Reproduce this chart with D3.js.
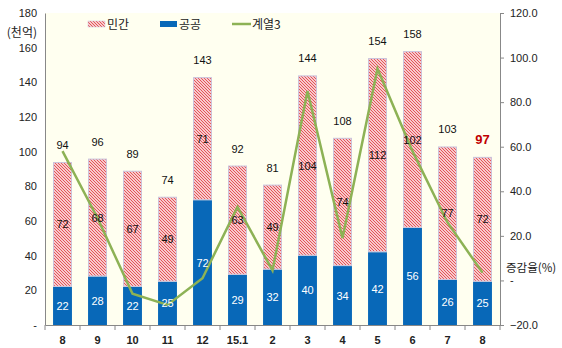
<!DOCTYPE html>
<html><head><meta charset="utf-8">
<script src="https://cdn.jsdelivr.net/npm/d3@7"></script>
<style>
body{margin:0;background:#fff;}
svg{display:block;font-family:"Liberation Sans","Noto Sans CJK KR",sans-serif;}
.kr{font-family:"Noto Sans CJK KR",sans-serif;}
</style></head><body>
<svg id="c" width="562" height="348"></svg>
<script>
const categories = ["8","9","10","11","12","15.1","2","3","4","5","6","7","8"];
const publicVals = [22,28,22,25,72,29,32,40,34,42,56,26,25];
const privateVals = [72,68,67,49,71,63,49,104,74,112,102,77,72];
const totals = [94,96,89,74,143,92,81,144,108,154,158,103,97];
const growth = [58,28,-6,-11,1,33,4.5,85,19,95,58,26,3.5];
const leftTicks = [0,20,40,60,80,100,120,140,160,180];
const rightTicks = [-20,0,20,40,60,80,100,120];

const svg = d3.select("#c");
const L=45,R=500,T=13,B=325;
const defs = svg.append("defs");
const pat = defs.append("pattern").attr("id","hatch").attr("patternUnits","userSpaceOnUse")
  .attr("width",3).attr("height",3);
pat.append("rect").attr("width",3).attr("height",3).attr("fill","#fff");
pat.append("path").attr("d","M-1,-1 L4,4 M-1,2 L1,4 M2,-1 L4,1").attr("stroke","#e44a4f").attr("stroke-width",1.1);

svg.append("rect").attr("x",L).attr("y",T).attr("width",R-L).attr("height",B-T).attr("fill","#fffff0");

const x = d3.scaleBand().domain(d3.range(categories.length)).range([L,R]).paddingInner(0.46).paddingOuter(0.23);
const xb = d3.scaleBand().domain(d3.range(categories.length)).range([L,R]);
const yL = d3.scaleLinear().domain([0,180]).range([B,T]);
const yR = d3.scaleLinear().domain([-20,120]).range([B,T]);

// bars
const g = svg.append("g");
categories.forEach((c,i)=>{
  const bx = x(i), bw = x.bandwidth();
  g.append("rect").attr("x",bx).attr("y",yL(publicVals[i])).attr("width",bw)
    .attr("height",yL(0)-yL(publicVals[i])).attr("fill","#0868b8");
  g.append("rect").attr("x",bx+0.5).attr("y",yL(publicVals[i]+privateVals[i])+0.5).attr("width",bw-1)
    .attr("height",yL(publicVals[i])-yL(publicVals[i]+privateVals[i])-1).attr("fill","url(#hatch)")
    .attr("stroke","#c9c3dc").attr("stroke-width",1);
});

// line
const line = d3.line().x((d,i)=>xb(i)+xb.bandwidth()/2).y(d=>yR(d));
svg.append("path").datum(growth).attr("d",line).attr("fill","none").attr("stroke","#8db255").attr("stroke-width",2.5);

// labels
categories.forEach((c,i)=>{
  const cx = xb(i)+xb.bandwidth()/2;
  svg.append("text").attr("x",cx).attr("y",(yL(0)+yL(publicVals[i]))/2+4).attr("text-anchor","middle")
    .attr("font-size",11).attr("fill","#fff").text(publicVals[i]);
  svg.append("text").attr("x",cx).attr("y",(yL(publicVals[i])+yL(totals[i]))/2+4).attr("text-anchor","middle")
    .attr("font-size",11).attr("fill","#111").text(privateVals[i]);
  const last = i===categories.length-1;
  svg.append("text").attr("x",cx).attr("y",yL(totals[i])-13).attr("text-anchor","middle")
    .attr("font-size",last?13:11).attr("font-weight",last?"bold":"normal")
    .attr("fill",last?"#c00000":"#111").text(totals[i]);
});

// left axis
const la = svg.append("g").attr("transform",`translate(${L},0)`)
  .call(d3.axisLeft(yL).tickValues(leftTicks).tickSize(0).tickPadding(8).tickFormat(d=>d===0?"-":d));
la.select(".domain").attr("stroke","#888");
la.selectAll("text").attr("font-size",11).attr("fill","#222").attr("font-family","Liberation Sans");
svg.append("text").attr("class","kr").attr("x",37).attr("y",37).attr("text-anchor","end")
  .attr("font-size",12).attr("fill","#222").text("(천억)");

// right axis
const ra = svg.append("g").attr("transform",`translate(${R},0)`)
  .call(d3.axisRight(yR).tickValues(rightTicks).tickSize(4).tickPadding(6).tickFormat(d=>d===0?"-":d3.format(".1f")(d)));
ra.select(".domain").attr("stroke","#888");
ra.selectAll("line").attr("stroke","#888");
ra.selectAll("text").attr("font-size",11).attr("fill","#222").attr("font-family","Liberation Sans");
svg.append("text").attr("class","kr").attr("x",506).attr("y",272)
  .attr("font-size",11.5).attr("fill","#222").text("증감율(%)");

// bottom axis
const ba = svg.append("g").attr("transform",`translate(0,${B})`)
  .call(d3.axisBottom(xb).tickSize(0).tickPadding(11).tickFormat(i=>categories[i]));
ba.select(".domain").attr("stroke","#888");
ba.selectAll("text").attr("font-size",11).attr("font-weight","bold").attr("fill","#222");
ba.selectAll(".sep").data(d3.range(categories.length+1)).enter().append("line")
  .attr("x1",i=>L+i*xb.step()).attr("x2",i=>L+i*xb.step()).attr("y1",0).attr("y2",5).attr("stroke","#888");

// legend
const lg = svg.append("g");
lg.append("rect").attr("x",88).attr("y",21).attr("width",17).attr("height",6).attr("fill","url(#hatch)").attr("stroke","#c9c3dc").attr("stroke-width",0.5);
lg.append("text").attr("class","kr").attr("x",107).attr("y",29).attr("font-size",12).attr("fill","#222").text("민간");
lg.append("rect").attr("x",160).attr("y",21).attr("width",17).attr("height",6).attr("fill","#0868b8");
lg.append("text").attr("class","kr").attr("x",179).attr("y",29).attr("font-size",12).attr("fill","#222").text("공공");
lg.append("line").attr("x1",232).attr("x2",251).attr("y1",24).attr("y2",24).attr("stroke","#8db255").attr("stroke-width",2.5);
lg.append("text").attr("class","kr").attr("x",252).attr("y",29).attr("font-size",12).attr("fill","#222").text("계열3");
</script></body></html>
